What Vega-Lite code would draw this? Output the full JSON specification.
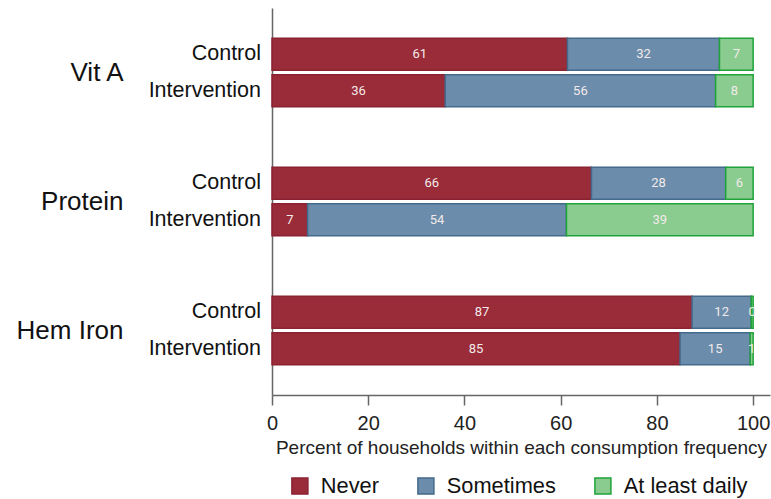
{
  "$schema": "https://vega.github.io/schema/vega-lite/v6.json",
  "autosize": {"type": "none"},
  "padding": {"left": 272, "top": 8, "right": 1, "bottom": 104},
  "width": 498,
  "height": 387,
  "background": "white",
  "config": {"view": {"stroke": null}, "font": "Liberation Sans"},
  "data": {"values": [
    {"nutrient": "Vit A", "group": "Control", "freq": "Never", "pct": 61.4},
    {"nutrient": "Vit A", "group": "Control", "freq": "Sometimes", "pct": 31.6},
    {"nutrient": "Vit A", "group": "Control", "freq": "At least daily", "pct": 7.0},
    {"nutrient": "Vit A", "group": "Intervention", "freq": "Never", "pct": 36.0},
    {"nutrient": "Vit A", "group": "Intervention", "freq": "Sometimes", "pct": 56.2},
    {"nutrient": "Vit A", "group": "Intervention", "freq": "At least daily", "pct": 7.8},
    {"nutrient": "Protein", "group": "Control", "freq": "Never", "pct": 66.4},
    {"nutrient": "Protein", "group": "Control", "freq": "Sometimes", "pct": 27.9},
    {"nutrient": "Protein", "group": "Control", "freq": "At least daily", "pct": 5.7},
    {"nutrient": "Protein", "group": "Intervention", "freq": "Never", "pct": 7.4},
    {"nutrient": "Protein", "group": "Intervention", "freq": "Sometimes", "pct": 53.8},
    {"nutrient": "Protein", "group": "Intervention", "freq": "At least daily", "pct": 38.8},
    {"nutrient": "Hem Iron", "group": "Control", "freq": "Never", "pct": 87.3},
    {"nutrient": "Hem Iron", "group": "Control", "freq": "Sometimes", "pct": 12.3},
    {"nutrient": "Hem Iron", "group": "Control", "freq": "At least daily", "pct": 0.4},
    {"nutrient": "Hem Iron", "group": "Intervention", "freq": "Never", "pct": 84.8},
    {"nutrient": "Hem Iron", "group": "Intervention", "freq": "Sometimes", "pct": 14.6},
    {"nutrient": "Hem Iron", "group": "Intervention", "freq": "At least daily", "pct": 0.6}
  ]},
  "transform": [
    {"calculate": "indexof(['Never','Sometimes','At least daily'], datum.freq)", "as": "ord"},
    {"stack": "pct", "groupby": ["nutrient", "group"], "sort": [{"field": "ord", "order": "ascending"}], "as": ["x0", "x1"]},
    {"calculate": "(datum.x0 + datum.x1) / 2", "as": "xm"}
  ],
  "encoding": {
    "y": {
      "field": "nutrient", "type": "nominal", "sort": ["Vit A", "Protein", "Hem Iron"],
      "scale": {"paddingInner": 0, "paddingOuter": 0},
      "axis": {"title": null, "ticks": false, "labelFontSize": 26, "labelPadding": 149, "labelColor": "#111111", "domainColor": "#666666", "domainWidth": 1.5, "grid": false}
    },
    "yOffset": {
      "field": "group", "type": "nominal", "sort": ["Control", "Intervention"],
      "scale": {"paddingInner": 0.12, "paddingOuter": 0.83}
    }
  },
  "layer": [
    {
      "mark": {"type": "bar", "strokeWidth": 1.5},
      "encoding": {
        "x": {
          "field": "x0", "type": "quantitative",
          "scale": {"domain": [0, 103.5], "nice": false, "zero": true},
          "axis": {
            "values": [0, 20, 40, 60, 80, 100],
            "title": "Percent of households within each consumption frequency",
            "titleFontSize": 19, "titleFontWeight": "normal", "titleColor": "#222222", "titlePadding": 5,
            "labelFontSize": 20, "labelColor": "#222222", "labelPadding": 8, "labelFlush": false,
            "tickSize": 10, "tickColor": "#666666", "tickWidth": 1.5,
            "domainColor": "#666666", "domainWidth": 1.5, "grid": false
          }
        },
        "x2": {"field": "x1"},
        "color": {
          "field": "freq", "type": "nominal",
          "scale": {"domain": ["Never", "Sometimes", "At least daily"], "range": ["#9a2b39", "#6b8cab", "#8acc8f"]},
          "legend": {
            "orient": "none", "legendX": 17, "legendY": 467, "direction": "horizontal", "title": null,
            "symbolType": "square", "symbolSize": 256, "symbolStrokeWidth": 1.5, "symbolOpacity": 1,
            "labelFontSize": 21.8, "labelColor": "#111111", "labelOffset": 10, "columnPadding": 35
          }
        },
        "stroke": {
          "field": "freq", "type": "nominal",
          "scale": {"domain": ["Never", "Sometimes", "At least daily"], "range": ["#8a2232", "#436a8c", "#1fa33a"]},
          "legend": null
        }
      }
    },
    {
      "mark": {"type": "text", "font": "Roboto", "fontSize": 13, "color": "#f2eaea", "baseline": "middle", "align": "center"},
      "encoding": {
        "x": {"field": "xm", "type": "quantitative"},
        "text": {"field": "pct", "type": "quantitative", "format": ".0f"}
      }
    },
    {
      "transform": [{"filter": "datum.freq === 'Never'"}],
      "mark": {"type": "text", "align": "right", "baseline": "middle", "dx": -11, "fontSize": 21.5, "color": "#111111"},
      "encoding": {
        "x": {"datum": 0, "type": "quantitative"},
        "text": {"field": "group", "type": "nominal"}
      }
    }
  ]
}
